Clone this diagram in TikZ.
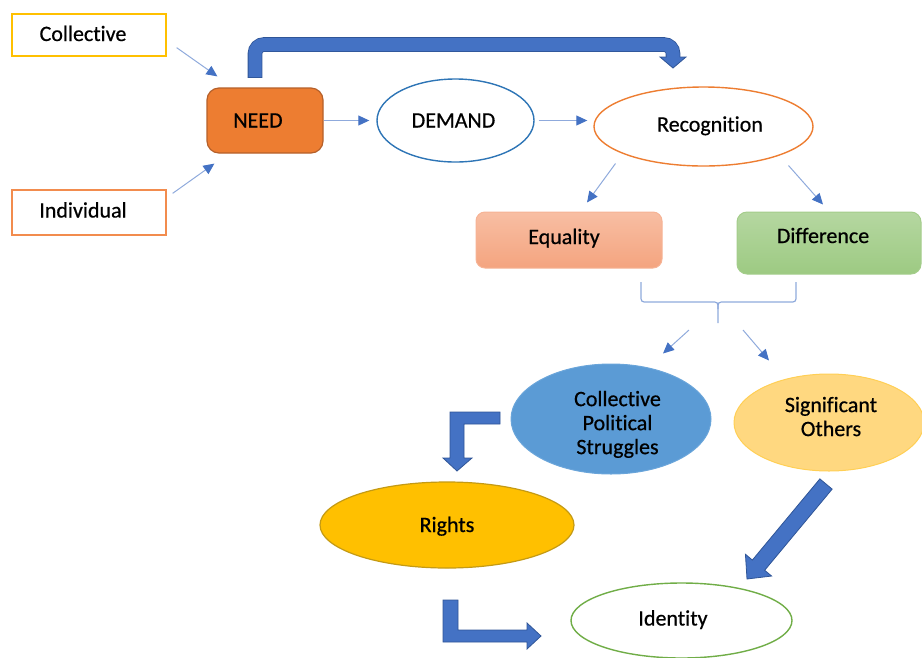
\documentclass[tikz,border=0pt]{standalone}
\usepackage{fontspec}
\setmainfont[FakeBold=0.6, Ligatures=NoCommon]{Carlito}
\usetikzlibrary{shapes.geometric,arrows.meta,calc}

\definecolor{lineblue}{HTML}{8FAADC}
\definecolor{tipblue}{HTML}{4472C4}
\definecolor{bigfill}{HTML}{4472C4}
\definecolor{bigedge}{HTML}{2F5597}
\definecolor{gold}{HTML}{FFC000}
\definecolor{orng}{HTML}{ED7D31}
\definecolor{neededge}{HTML}{B5602A}
\definecolor{indedge}{HTML}{F28C4E}
\definecolor{demandedge}{HTML}{2E75B6}
\definecolor{eqtop}{HTML}{F8BEA3}
\definecolor{eqbot}{HTML}{F4A47F}
\definecolor{eqedge}{HTML}{F6B395}
\definecolor{diftop}{HTML}{B5D7A1}
\definecolor{difbot}{HTML}{9DCA82}
\definecolor{difedge}{HTML}{A4CD8B}
\definecolor{cpsfill}{HTML}{5B9BD5}
\definecolor{cpsedge}{HTML}{6AA5DA}
\definecolor{sofill}{HTML}{FFD880}
\definecolor{soedge}{HTML}{FFCF55}
\definecolor{rightsedge}{HTML}{C49A14}
\definecolor{idedge}{HTML}{70AD47}

\begin{document}
\begin{tikzpicture}[x=1pt,y=-1pt,
  every node/.style={font=\fontsize{22}{24}\selectfont, inner sep=0pt, text=black},
  oneline/.style={text height=14pt, text depth=0pt},
  plainbox/.style={draw, line width=1.3pt, fill=white, oneline},
  oval/.style={ellipse, draw, line width=1.4pt, oneline},
  thinarrow/.style={draw=lineblue, line width=1pt, -{Triangle[length=11pt,width=10pt,color=tipblue]}},
  bigarrow/.style={fill=bigfill, draw=bigedge, line width=0.8pt, line join=miter},
]
\useasboundingbox (0,0) rectangle (922,657);
\clip (0,0) rectangle (922,657);

% sources
\node[plainbox, draw=gold, minimum width=154pt, minimum height=42pt, text depth=2pt] (coll) at (89,35) {\hspace*{-12pt}Collective};
\node[plainbox, draw=indedge, minimum width=154pt, minimum height=45pt, text depth=4pt] (ind) at (89,212.5) {\hspace*{-12pt}Individual};

% main chain
\node[draw=neededge, fill=orng, line width=1.2pt, rounded corners=12pt, oneline,
      minimum width=116pt, minimum height=65pt] (need) at (265,120.5) {\hspace*{-14pt}NEED};
\node[oval, draw=demandedge, minimum width=157pt, minimum height=83pt] (demand) at (455.5,120.5) {\hspace*{-4pt}DEMAND};
\node[oval, draw=orng, minimum width=219pt, minimum height=79pt, text depth=4pt] (rec) at (703.5,126.5) {\hspace*{13pt}Recognition};

% two kinds of recognition
\node[rounded corners=9pt, draw=eqedge, line width=1pt, top color=eqtop, bottom color=eqbot, oneline,
      text depth=6pt, minimum width=186pt, minimum height=56pt] (eq) at (569,240) {\hspace*{-10pt}Equality};
\node[rounded corners=10pt, draw=difedge, line width=1pt, top color=diftop, bottom color=difbot, oneline,
      text depth=14pt, minimum width=184pt, minimum height=62pt] (dif) at (829,243) {\hspace*{-12pt}Difference};

% lower level
\node[ellipse, fill=cpsfill, draw=cpsedge, line width=1pt, align=center,
      minimum width=200pt, minimum height=96pt] (cps) at (611,419)
      {\hspace*{13pt}\rule{0pt}{26pt}Collective\\\hspace*{13pt}Political\\\hspace*{13pt}Struggles};
\node[ellipse, fill=sofill, draw=soedge, line width=1pt, align=center,
      minimum width=190pt, minimum height=97pt] (so) at (829,422.5)
      {\hspace*{4pt}Significant\\\hspace*{4pt}Others\rule[-12pt]{0pt}{12pt}};
\node[oval, fill=gold, draw=rightsedge, line width=1.2pt, minimum width=254pt, minimum height=86pt] (rights) at (447,525) {Rights};
\node[oval, draw=idedge, minimum width=221pt, minimum height=75pt, text depth=4pt] (id) at (681.5,620.5) {\hspace*{-17pt}Identity};

% thin connectors
\draw[thinarrow] ($(coll.south east)+(10,-9)$) -- ($(need.north west)+(11,-11)$);
\draw[thinarrow] ($(ind.north east)+(6,4)$) -- ($(need.south west)+(8,10)$);
\draw[thinarrow, shorten >=7pt] (need.east) -- (demand.west);
\draw[thinarrow, shorten <=4pt, shorten >=6pt] (demand.east) -- (demand.east -| rec.west);
\draw[thinarrow] ($(rec.center)+(-88,37)$) -- ($(eq.north)+(18,-9)$);
\draw[thinarrow] ($(rec.center)+(85,39)$) -- ($(dif.north)+(-6,-7)$);

% brace joining both kinds
\coordinate (brtip) at (718,323);
\draw[lineblue, line width=1.2pt] (641,282) -- (641,295) .. controls (641,302) .. (648,302)
  -- (711,302) .. controls (718,302) .. (718,309) -- (brtip);
\draw[lineblue, line width=1.2pt] (796,282) -- (796,295) .. controls (796,302) .. (789,302)
  -- (725,302) .. controls (718,302) .. (718,309);
\draw[thinarrow] ($(brtip)+(-29,7)$) -- ($(cps.north)+(52,-10)$);
\draw[thinarrow] ($(brtip)+(25,7)$) -- ($(so.north)+(-60,-13)$);

% block arrow from NEED over to Recognition
\coordinate (tA) at (255,77);
\coordinate (tB) at (673,57);
\draw[bigedge, line width=14.6pt, rounded corners=9pt] (255,77.8) |- (673,44.5) -- (tB);
\filldraw[bigarrow] (660,57) -- (686,57) -- (673,68) -- cycle;
\draw[bigfill, line width=13pt, rounded corners=9pt] (tA) |- (673,44.5) -- (673,58.2);

% bent arrow from the struggles to rights
\filldraw[bigarrow] (500,412) -- (450,412) -- (450,458) -- (443,458) -- (457,471)
  -- (472,458) -- (464,458) -- (464,424) -- (500,424) -- cycle;

% bent arrow from rights to identity
\filldraw[bigarrow] (443,600) -- (443,642) -- (527,642) -- (527,649) -- (541,636)
  -- (527,623) -- (527,630) -- (458,630) -- (458,600) -- cycle;

% straight arrow from significant others to identity
\coordinate (soTail) at (826,484);
\coordinate (idTip) at (747,579);
\coordinate (hb) at ($(idTip)!18pt!(soTail)$);
\filldraw[bigarrow] ($(soTail)!8pt!90:(idTip)$) -- ($(hb)!8pt!90:(idTip)$) -- ($(hb)!17pt!90:(idTip)$)
  -- (idTip) -- ($(hb)!17pt!-90:(idTip)$) -- ($(hb)!8pt!-90:(idTip)$) -- ($(soTail)!8pt!-90:(idTip)$) -- cycle;
\end{tikzpicture}
\end{document}
